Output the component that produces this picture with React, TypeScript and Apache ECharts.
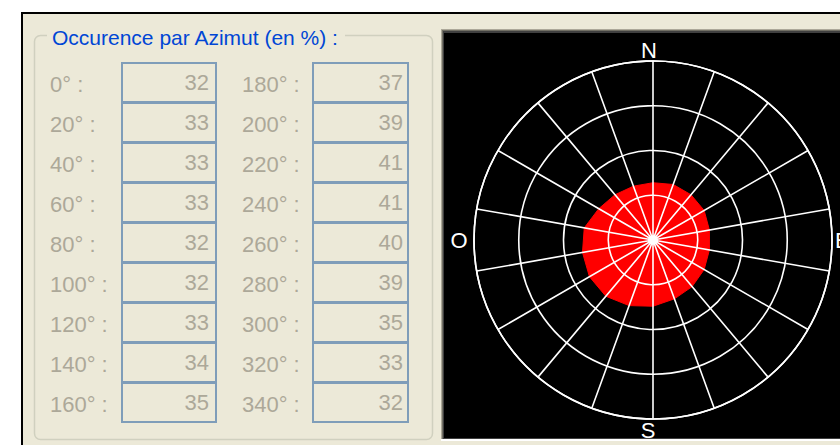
import React, { useEffect, useRef } from 'react';
import * as echarts from 'echarts';

const title = 'Occurence par Azimut (en %) :';
const azimuths = [0, 20, 40, 60, 80, 100, 120, 140, 160, 180, 200, 220, 240, 260, 280, 300, 320, 340];
const occurrence = [32, 33, 33, 33, 32, 32, 33, 34, 35, 37, 39, 41, 41, 40, 39, 35, 33, 32];
const compass = ['N', 'E', 'S', 'O'];
const radiusMax = 100;
const radiusStep = 25;
const angleStep = 20;

const FONT = "'Liberation Sans', Arial, sans-serif";

function txt(text: string, x: number, y: number, fill: string, size: number, align = 'left', z = 5) {
  return {
    type: 'text',
    z,
    silent: true,
    style: {
      text,
      x,
      y,
      fill,
      font: `${size}px ${FONT}`,
      align,
      textAlign: align,
      verticalAlign: 'middle',
      textVerticalAlign: 'middle',
    },
  };
}

export default function App() {
  const ref = useRef<HTMLDivElement>(null);
  useEffect(() => {
    const chart = echarts.init(ref.current!, null, { renderer: 'svg' });
    const els: any[] = [];
    // window background and frame
    els.push({ type: 'rect', z: -20, silent: true, shape: { x: 0, y: 0, width: 840, height: 445 }, style: { fill: '#FFFFFF' } });
    els.push({ type: 'rect', z: -19, silent: true, shape: { x: 22, y: 12, width: 818, height: 433 }, style: { fill: '#ECE9D8' } });
    els.push({ type: 'line', z: -18, silent: true, shape: { x1: 21, y1: 13, x2: 840, y2: 13 }, style: { stroke: '#000', lineWidth: 2 } });
    els.push({ type: 'line', z: -18, silent: true, shape: { x1: 22, y1: 12, x2: 22, y2: 445 }, style: { stroke: '#000', lineWidth: 2 } });
    // group box
    els.push({ type: 'rect', z: -17, silent: true, shape: { x: 34.5, y: 35.5, width: 398, height: 404, r: 6 }, style: { fill: 'none', stroke: '#D0D0BF', lineWidth: 1.5 } });
    els.push({ type: 'rect', z: -16, silent: true, shape: { x: 47, y: 26, width: 298, height: 20 }, style: { fill: '#ECE9D8' } });
    els.push(txt(title, 52, 37, '#0046D5', 21));

    // labels and boxes
    azimuths.forEach((a, i) => {
      const col = i < 9 ? 0 : 1;
      const row = i % 9;
      const labelX = col === 0 ? 50 : 242;
      const boxX = col === 0 ? 122 : 313;
      const boxW = col === 0 ? 94 : 95;
      const valRight = col === 0 ? 209 : 403;
      const top = 63 + row * 40;
      els.push({ type: 'rect', z: -15, silent: true, shape: { x: boxX, y: top, width: boxW, height: 39 }, style: { fill: 'none', stroke: '#7F9DB9', lineWidth: 2 } });
      els.push(txt(`${a}° :`, labelX, top + 21, '#ACA899', 22));
      els.push(txt(String(occurrence[i]), valRight, top + 19, '#ACA899', 22, 'right'));
    });

    // sunken black panel
    els.push({ type: 'rect', z: -14, silent: true, shape: { x: 441, y: 29, width: 399, height: 412 }, style: { fill: '#FFFFFF' } });
    els.push({ type: 'rect', z: -13, silent: true, shape: { x: 441, y: 29, width: 399, height: 410 }, style: { fill: '#ACA899' } });
    els.push({ type: 'rect', z: -12, silent: true, shape: { x: 442, y: 30, width: 398, height: 409 }, style: { fill: '#716F64' } });
    els.push({ type: 'rect', z: -11, silent: true, shape: { x: 443, y: 31, width: 397, height: 408 }, style: { fill: '#404040' } });
    els.push({ type: 'rect', z: -10, silent: true, shape: { x: 444, y: 33, width: 396, height: 405 }, style: { fill: '#000000' } });

    // compass letters
    const cx = 653, cy = 240, R = 179;
    els.push(txt(compass[0], cx - 4, 50, '#FFFFFF', 22, 'center', 20));
    els.push(txt(compass[1], 835, cy, '#FFFFFF', 22, 'left', 20));
    els.push(txt(compass[2], cx - 5, 430, '#FFFFFF', 22, 'center', 20));
    els.push(txt(compass[3], 459, cy, '#FFFFFF', 22, 'center', 20));

    const data: number[][] = azimuths.map((a, i) => [occurrence[i], a]);
    data.push([occurrence[0], 360]);

    chart.setOption({
      animation: false,
      graphic: { elements: els },
      polar: { center: [cx, cy], radius: R },
      angleAxis: {
        type: 'value',
        min: 0,
        max: 360,
        interval: angleStep,
        startAngle: 90,
        clockwise: true,
        z: 10,
        axisLine: { show: true, lineStyle: { color: '#FFFFFF', width: 1.6 } },
        axisTick: { show: false },
        axisLabel: { show: false },
        splitLine: { show: true, lineStyle: { color: '#FFFFFF', width: 1.6 } },
      },
      radiusAxis: {
        type: 'value',
        min: 0,
        max: radiusMax,
        interval: radiusStep,
        z: 10,
        axisLine: { show: false },
        axisTick: { show: false },
        axisLabel: { show: false },
        splitLine: { show: true, lineStyle: { color: '#FFFFFF', width: 1.6 } },
      },
      series: [
        {
          type: 'line',
          coordinateSystem: 'polar',
          data,
          showSymbol: false,
          symbol: 'none',
          z: 2,
          lineStyle: { color: '#FF0000', width: 1 },
          areaStyle: { color: '#FF0000', opacity: 1 },
          silent: true,
        },
      ],
    });
    return () => chart.dispose();
  }, []);
  return <div ref={ref} style={{ position: 'absolute', left: 0, top: 0, width: 840, height: 445 }} />;
}
